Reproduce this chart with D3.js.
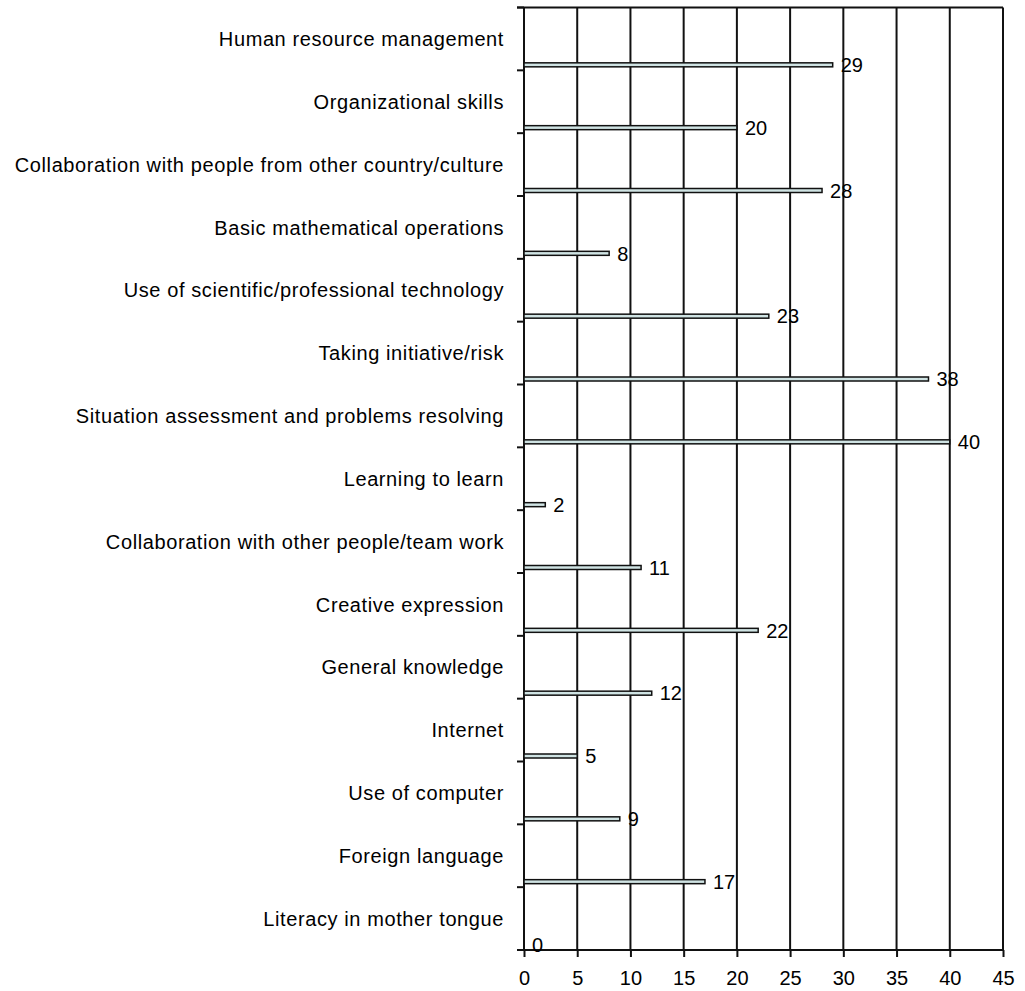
<!DOCTYPE html>
<html>
<head>
<meta charset="utf-8">
<script src="https://cdn.jsdelivr.net/npm/d3@7"></script>
<style>
  html, body { margin: 0; padding: 0; background: #fff; }
  svg { display: block; font-family: Arial, "Liberation Sans", sans-serif; }
</style>
</head>
<body>
<svg id="chart" width="1025" height="991"></svg>
<script>
// Skills (top to bottom) and their counts
const categories = [
  "Human resource management",
  "Organizational skills",
  "Collaboration with people from other country/culture",
  "Basic mathematical operations",
  "Use of scientific/professional technology",
  "Taking initiative/risk",
  "Situation assessment and problems resolving",
  "Learning to learn",
  "Collaboration with other people/team work",
  "Creative expression",
  "General knowledge",
  "Internet",
  "Use of computer",
  "Foreign language",
  "Literacy in mother tongue"
];
const values = [29, 20, 28, 8, 23, 38, 40, 2, 11, 22, 12, 5, 9, 17, 0];
const xTicks = [0, 5, 10, 15, 20, 25, 30, 35, 40, 45];

const svg = d3.select("#chart");
const plotLeft = 524, plotRight = 1003, plotTop = 7.5, plotBottom = 950;

const x = d3.scaleLinear().domain([0, 45]).range([plotLeft, plotRight]);
const y = d3.scaleBand().domain(categories).range([plotTop, plotBottom]).padding(0);

// vertical gridlines
svg.append("g")
  .selectAll("line")
  .data(xTicks.filter(d => d > 0))
  .join("line")
  .attr("x1", d => x(d)).attr("x2", d => x(d))
  .attr("y1", plotTop).attr("y2", plotBottom)
  .attr("stroke", "#111").attr("stroke-width", 2);

// top border
svg.append("line")
  .attr("x1", plotLeft - 7).attr("x2", plotRight)
  .attr("y1", plotTop).attr("y2", plotTop)
  .attr("stroke", "#111").attr("stroke-width", 2);

// bottom axis
const xAxis = svg.append("g")
  .attr("transform", `translate(0,${plotBottom})`)
  .call(d3.axisBottom(x).tickValues(xTicks).tickSize(7).tickPadding(14).tickFormat(d3.format("d")));
xAxis.select(".domain").attr("stroke", "#111").attr("stroke-width", 2)
  .attr("d", `M${plotLeft - 7},0H${plotRight}`);
xAxis.selectAll(".tick line").attr("stroke", "#111").attr("stroke-width", 2);
xAxis.selectAll(".tick text").attr("font-size", 20).attr("fill", "#000")
  .attr("font-family", "Arial, 'Liberation Sans', sans-serif");

// left axis line and category-boundary ticks
svg.append("line")
  .attr("x1", plotLeft).attr("x2", plotLeft).attr("y1", plotTop).attr("y2", plotBottom)
  .attr("stroke", "#111").attr("stroke-width", 2);
const bounds = d3.range(categories.length + 1).map(i => plotTop + i * y.step());
svg.append("g")
  .selectAll("line")
  .data(bounds)
  .join("line")
  .attr("x1", plotLeft - 7).attr("x2", plotLeft)
  .attr("y1", d => d).attr("y2", d => d)
  .attr("stroke", "#111").attr("stroke-width", 2);

// category labels
svg.append("g")
  .selectAll("text")
  .data(categories)
  .join("text")
  .attr("x", plotLeft - 20)
  .attr("y", d => y(d) + y.bandwidth() / 2)
  .attr("dy", "0.36em")
  .attr("text-anchor", "end")
  .attr("font-size", 20)
  .attr("letter-spacing", 0.6)
  .attr("fill", "#000")
  .text(d => d);

// bars
const barH = 4;
const barY = d => y(d) + y.bandwidth() - 5.5 - barH / 2;
svg.append("g")
  .selectAll("rect")
  .data(categories.map((c, i) => ({ c, v: values[i] })).filter(d => d.v > 0))
  .join("rect")
  .attr("x", x(0))
  .attr("y", d => barY(d.c))
  .attr("width", d => x(d.v) - x(0))
  .attr("height", barH)
  .attr("fill", "#cfe3e3")
  .attr("stroke", "#111")
  .attr("stroke-width", 1.5);

// value labels
svg.append("g")
  .selectAll("text")
  .data(categories.map((c, i) => ({ c, v: values[i] })))
  .join("text")
  .attr("x", d => x(d.v) + 8)
  .attr("y", d => barY(d.c) + barH / 2)
  .attr("dy", "0.36em")
  .attr("font-size", 20)
  .attr("fill", "#000")
  .text(d => d.v);
</script>
</body>
</html>
